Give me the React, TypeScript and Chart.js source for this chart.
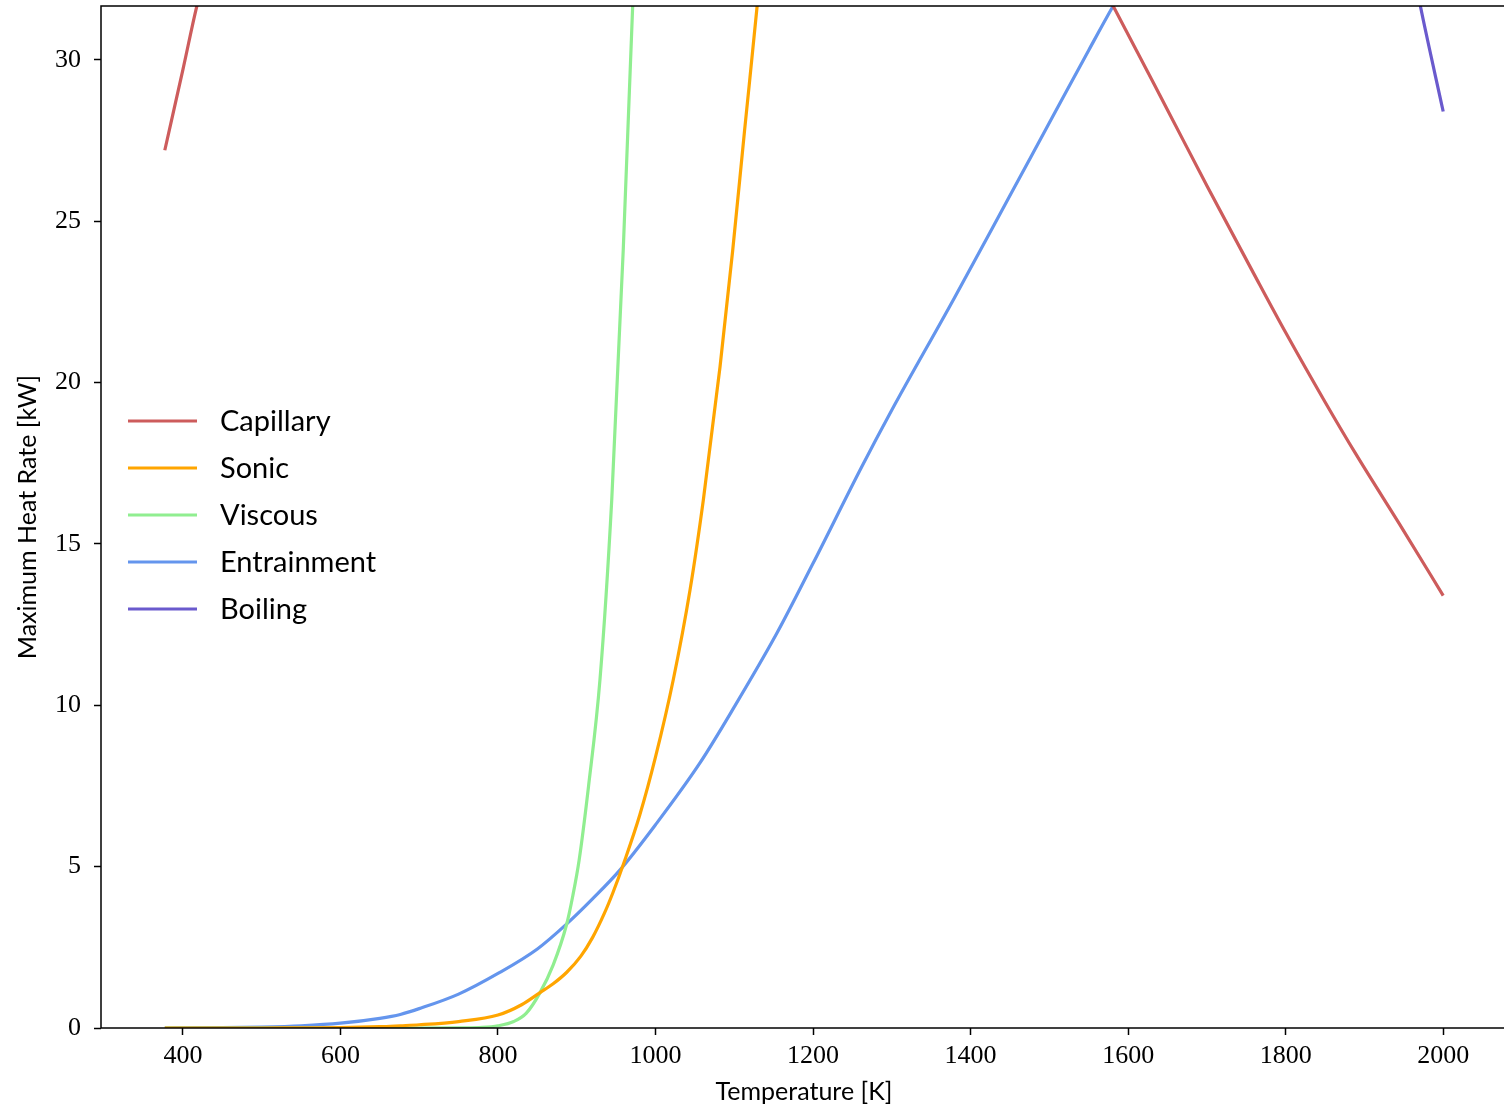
import React, { useEffect, useRef } from "react";
import { Chart, registerables } from "chart.js";

Chart.register(...registerables);

// ---- Data (Temperature [K] vs Maximum Heat Rate [kW]) ----
const capillaryT = [377, 400, 418, 500, 700, 1000, 1300, 1500, 1581, 1650, 1700, 1759, 1800, 1850, 1890, 1950, 2000];
const capillaryQ = [27.2, 29.7, 31.7, 39, 50, 55, 46, 35.3, 31.67, 28.45, 26.1, 23.4, 21.55, 19.4, 17.75, 15.4, 13.4];

const sonicT = [377, 450, 500, 550, 600, 650, 676, 700, 750, 800, 830, 853, 870, 887, 905, 920, 935, 946, 961, 980, 1000, 1022.6, 1043.8, 1060.7, 1081.9, 1098, 1113, 1129, 1150];
const sonicQ = [0, 0, 0, 0.005, 0.01, 0.04, 0.07, 0.1, 0.2, 0.4, 0.72, 1.09, 1.37, 1.72, 2.22, 2.8, 3.55, 4.2, 5.2, 6.6, 8.4, 10.8, 13.57, 16.36, 20.49, 24.1, 27.8, 31.67, 37.5];

const viscousT = [377, 600, 700, 750, 780, 800, 820, 836, 853, 870, 887, 895, 903, 915, 929.5, 944.4, 959, 971, 985];
const viscousQ = [0, 0, 0, 0.005, 0.02, 0.07, 0.2, 0.46, 1.08, 1.95, 3.2, 4.1, 5.2, 7.5, 10.8, 16.36, 24.1, 31.67, 42];

const entrainmentT = [377, 450, 500, 550, 600, 650, 676, 700, 750, 800, 850, 887, 920, 955, 1000, 1056, 1100, 1154, 1200, 1262, 1300, 1378, 1450, 1500, 1550, 1581, 1650, 1800, 2000];
const entrainmentQ = [0, 0.01, 0.03, 0.07, 0.15, 0.3, 0.42, 0.6, 1.05, 1.69, 2.45, 3.22, 4.0, 4.9, 6.3, 8.2, 9.95, 12.23, 14.4, 17.4, 19.15, 22.56, 25.8, 28.05, 30.3, 31.67, 34.5, 40, 47];

const boilingT = [1900, 1950, 1971, 2000];
const boilingQ = [40, 34.3, 31.67, 28.4];

const seriesLabels = ["Capillary", "Sonic", "Viscous", "Entrainment", "Boiling"];
const seriesColors = ["#CD5C5C", "#FFA500", "#90EE90", "#6495ED", "#6A5ACD"];

const xTicks = [400, 600, 800, 1000, 1200, 1400, 1600, 1800, 2000];
const yTicks = [0, 5, 10, 15, 20, 25, 30];
const xRange = [296, 2081];
const yRange = [0, 31.67];

const xTitle = "Temperature [K]";
const yTitle = "Maximum Heat Rate [kW]";

const toPoints = (xs: number[], ys: number[]) => xs.map((x, i) => ({ x, y: ys[i] }));

const SANS = "Lato, 'Open Sans', sans-serif";
const SERIF = "'Liberation Serif', 'DejaVu Serif', serif";

const boxPlugin = {
  id: "boxPlugin",
  afterDraw(chart: any) {
    const { ctx, chartArea } = chart;
    ctx.save();
    ctx.strokeStyle = "#000";
    ctx.lineWidth = 1.5;
    ctx.strokeRect(chartArea.left, chartArea.top, chartArea.right - chartArea.left, chartArea.bottom - chartArea.top);
    ctx.restore();
  },
};

const legendPlugin = {
  id: "customLegend",
  afterDraw(chart: any) {
    const { ctx, chartArea } = chart;
    const lineX0 = chartArea.left + 27;
    const lineX1 = chartArea.left + 96;
    const textX = chartArea.left + 119;
    const y0 = chartArea.top + 415;
    const dy = 47;
    ctx.save();
    ctx.font = `29px ${SANS}`;
    ctx.textBaseline = "middle";
    ctx.textAlign = "left";
    chart.data.datasets.forEach((ds: any, i: number) => {
      const y = y0 + i * dy;
      ctx.strokeStyle = ds.borderColor;
      ctx.lineWidth = 3.2;
      ctx.beginPath();
      ctx.moveTo(lineX0, y);
      ctx.lineTo(lineX1, y);
      ctx.stroke();
      ctx.fillStyle = "#000";
      ctx.fillText(ds.label, textX, y + 1);
    });
    ctx.restore();
  },
};

export default function App() {
  const canvasRef = useRef<HTMLCanvasElement | null>(null);

  useEffect(() => {
    if (!canvasRef.current) return;
    const allT = [capillaryT, sonicT, viscousT, entrainmentT, boilingT];
    const allQ = [capillaryQ, sonicQ, viscousQ, entrainmentQ, boilingQ];
    const datasets = seriesLabels.map((label, i) => ({
      label,
      data: toPoints(allT[i], allQ[i]),
      borderColor: seriesColors[i],
      backgroundColor: seriesColors[i],
      borderWidth: 3.2,
      pointRadius: 0,
      fill: false,
      cubicInterpolationMode: "monotone",
      clip: 0,
    }));

    const chart = new Chart(canvasRef.current, {
      type: "line",
      data: { datasets },
      options: {
        animation: false,
        responsive: false,
        maintainAspectRatio: false,
        layout: { padding: { top: 6, right: 5, left: 0, bottom: 0 } },
        plugins: { legend: { display: false }, tooltip: { enabled: false } },
        scales: {
          x: {
            type: "linear",
            min: xRange[0],
            max: xRange[1],
            afterBuildTicks: (s: any) => {
              s.ticks = xTicks.map((v) => ({ value: v }));
            },
            afterFit: (s: any) => {
              s.height = 80;
              s.paddingLeft = 0;
              s.paddingRight = 0;
            },
            border: { display: false },
            grid: {
              display: true,
              drawOnChartArea: false,
              drawTicks: true,
              tickLength: 7,
              tickWidth: 1.5,
              tickColor: "#000",
            },
            ticks: {
              color: "#000",
              padding: 6,
              maxRotation: 0,
              autoSkip: false,
              font: { family: SERIF, size: 26, lineHeight: 1.2 },
              callback: (v: any) => String(v),
            },
            title: {
              display: true,
              text: xTitle,
              color: "#000",
              font: { family: SANS, size: 25, lineHeight: 1.2 },
              padding: { top: 0, bottom: 1 },
            },
          },
          y: {
            type: "linear",
            min: yRange[0],
            max: yRange[1],
            afterBuildTicks: (s: any) => {
              s.ticks = yTicks.map((v) => ({ value: v }));
            },
            afterFit: (s: any) => {
              s.width = 101;
              s.paddingTop = 0;
              s.paddingBottom = 0;
            },
            border: { display: false },
            grid: {
              display: true,
              drawOnChartArea: false,
              drawTicks: true,
              tickLength: 7,
              tickWidth: 1.5,
              tickColor: "#000",
            },
            ticks: {
              color: "#000",
              padding: 13,
              autoSkip: false,
              font: { family: SERIF, size: 26, lineHeight: 1.2 },
              callback: (v: any) => String(v),
            },
            title: {
              display: true,
              text: yTitle,
              color: "#000",
              font: { family: SANS, size: 25, lineHeight: 1.2 },
              padding: { top: 13, bottom: 0 },
            },
          },
        },
      } as any,
      plugins: [boxPlugin, legendPlugin],
    });
    return () => chart.destroy();
  }, []);

  return (
    <div style={{ position: "fixed", left: 0, top: 0, width: 1512, height: 1108, background: "#fff", overflow: "hidden" }}>
      <canvas ref={canvasRef} width={1512} height={1108} style={{ display: "block" }} />
    </div>
  );
}
